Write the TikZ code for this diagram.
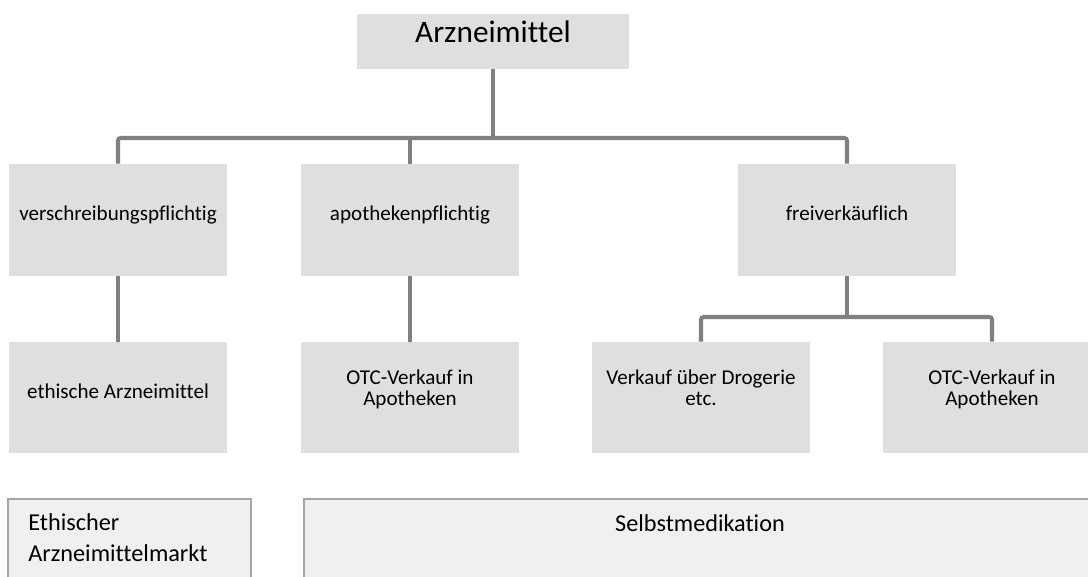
\documentclass[tikz,border=0pt]{standalone}
\usepackage{fontspec}
\setmainfont{Carlito}[Ligatures=NoCommon]
\usetikzlibrary{positioning, calc}

\begin{document}
\begin{tikzpicture}[x=0.02cm, y=-0.02cm,
    stufe/.style={fill=gray!25, minimum width=4.36cm, inner sep=0pt, align=center,
        font=\fontsize{12}{12.2}\selectfont, text height=5pt, text depth=4pt},
    zweizeilig/.style={text height=13.6pt, text depth=4pt},
    markt/.style={draw=gray!70, line width=1pt, fill=gray!12, anchor=north west, minimum height=2.4cm},
    markttext/.style={font=\fontsize{13.8}{18}\selectfont, align=left, inner sep=0pt},
    linie/.style={draw=gray, line width=2.3pt, rounded corners=1.5pt}]
    \useasboundingbox (0,0) rectangle (1088,576);
    \clip (0,0) rectangle (1088,576);

    % Wurzel
    \node[stufe, minimum width=5.44cm, minimum height=1.1cm, font=\fontsize{17.8}{18}\selectfont,
        text height=6pt, text depth=5pt] (arz) at (493,41.5) {Arzneimittel};

    % erste Ebene
    \node[stufe, minimum height=2.24cm] (ver) at (118,220) {verschreibungspflichtig};
    \node[stufe, minimum height=2.24cm] (apo) at (410,220) {apothekenpflichtig};
    \node[stufe, minimum height=2.24cm] (frei) at (847,220) {freiverkäuflich};

    % zweite Ebene
    \node[stufe, minimum height=2.22cm] (eth) at (118,397.5) {ethische Arzneimittel};
    \node[stufe, zweizeilig, minimum height=2.22cm] (otca) at (410,397.5) {OTC-Verkauf in\\Apotheken};
    \node[stufe, zweizeilig, minimum height=2.22cm] (drog) at (701,397.5) {Verkauf über Drogerie\\etc.};
    \node[stufe, zweizeilig, minimum height=2.22cm] (otcb) at (992,397.5) {OTC-Verkauf in\\Apotheken};

    % Verbindungen
    \coordinate (bus) at (493,138);
    \coordinate (subbus) at (847,317);
    \draw[linie] (arz.south) -- (bus);
    \draw[linie] (ver.north) |- (bus) -| (frei.north);
    \draw[linie] (apo.north) -- (apo.north |- bus);
    \draw[linie] (ver) -- (eth);
    \draw[linie] (apo) -- (otca);
    \draw[linie] (frei.south) -- (subbus);
    \draw[linie] (drog.north) |- (subbus) -| (otcb.north);

    % Maerkte
    \node[markt, minimum width=4.86cm] (ethmarkt) at (7,498) {};
    \node[markttext, anchor=base west] (ethmarkttext) at (28,561.7) {Ethischer\\Arzneimittelmarkt};
    \node[markt, minimum width=16cm] (selbst) at (303,498) {};
    \node[markttext, anchor=base] (selbsttext) at (700,531) {Selbstmedikation};
\end{tikzpicture}
\end{document}
